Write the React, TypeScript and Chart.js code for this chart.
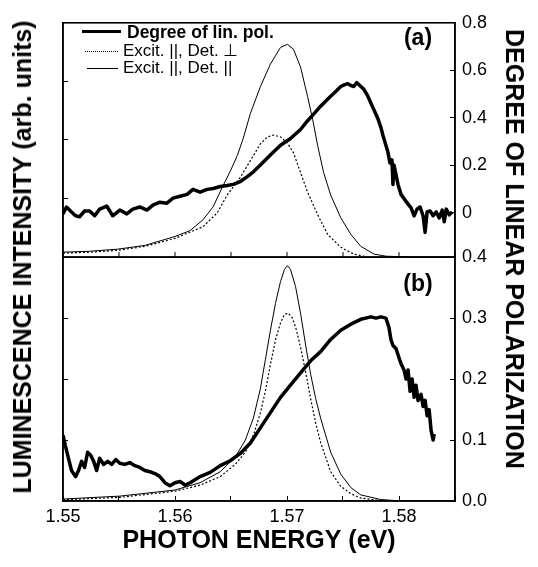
import React, { useEffect, useRef } from 'react';
import { Chart, registerables } from 'chart.js';

Chart.register(...registerables);

const FONT = '"Liberation Sans", Arial, Helvetica, sans-serif';

// ---------- axis ticks ----------
const xTickValues = [1.55, 1.555, 1.56, 1.565, 1.57, 1.575, 1.58, 1.585];
const xTickLabels = ['1.55', '', '1.56', '', '1.57', '', '1.58', ''];
const topRightTicks = [0, 0.2, 0.4, 0.6, 0.8];
const topRightLabels = ['0', '0.2', '0.4', '0.6', '0.8'];
const botRightTicks = [0, 0.1, 0.2, 0.3, 0.4];
const botRightLabels = ['0.0', '0.1', '0.2', '0.3', '0.4'];

const seriesLabels = ['Degree of lin. pol.', 'Excit. ||, Det. \u22A5', 'Excit. ||, Det. ||'];

// ---------- panel (a) ----------
const topPolE = [1.5500, 1.55031, 1.55076, 1.55112, 1.55148, 1.55193, 1.55238, 1.55283, 1.55327, 1.55390, 1.55444, 1.55507, 1.55570, 1.55623, 1.55686, 1.55749, 1.55803, 1.55865, 1.55928, 1.55982, 1.56045, 1.56108, 1.56161, 1.56224, 1.56287, 1.56341, 1.56404, 1.56466, 1.56520, 1.56583, 1.56646, 1.56700, 1.56762, 1.56825, 1.56879, 1.56942, 1.57031, 1.57121, 1.57184, 1.57238, 1.57300, 1.57345, 1.57390, 1.57435, 1.57480, 1.57516, 1.57543, 1.57570, 1.57596, 1.57623, 1.57650, 1.57686, 1.57722, 1.57749, 1.57785, 1.57812, 1.57839, 1.57857, 1.57883, 1.57901, 1.57919, 1.57937, 1.57946, 1.57955, 1.57973, 1.57991, 1.58018, 1.58054, 1.58081, 1.58108, 1.58135, 1.58161, 1.58188, 1.58215, 1.58233, 1.58251, 1.58278, 1.58305, 1.58332, 1.58359, 1.58386, 1.58404, 1.58422, 1.58448, 1.58475];
const topPolV = [-0.004, 0.025, 0.004, -0.012, -0.016, 0.008, 0.008, -0.012, 0.016, 0.029, -0.012, 0.012, -0.004, 0.016, 0.025, 0.012, 0.033, 0.045, 0.041, 0.062, 0.070, 0.078, 0.099, 0.087, 0.099, 0.103, 0.111, 0.115, 0.120, 0.132, 0.153, 0.173, 0.202, 0.231, 0.256, 0.285, 0.313, 0.351, 0.388, 0.416, 0.449, 0.470, 0.491, 0.511, 0.532, 0.540, 0.544, 0.536, 0.532, 0.548, 0.536, 0.520, 0.491, 0.462, 0.425, 0.396, 0.359, 0.326, 0.285, 0.256, 0.210, 0.223, 0.120, 0.202, 0.161, 0.120, 0.078, 0.054, 0.037, 0.021, -0.012, 0.016, 0.025, -0.012, -0.082, 0.004, 0.008, -0.012, 0.004, -0.021, 0.012, -0.037, 0.016, -0.008, 0.004];

const topParE = [1.5500, 1.55238, 1.55489, 1.55731, 1.56000, 1.56135, 1.56251, 1.56341, 1.56422, 1.56493, 1.56556, 1.56610, 1.56673, 1.56762, 1.56852, 1.56942, 1.57004, 1.57058, 1.57121, 1.57184, 1.57229, 1.57274, 1.57327, 1.57390, 1.57480, 1.57570, 1.57659, 1.57776, 1.57883, 1.58108, 1.58493];
const topParL = [0.021, 0.025, 0.034, 0.050, 0.088, 0.113, 0.160, 0.215, 0.298, 0.366, 0.433, 0.508, 0.613, 0.727, 0.824, 0.895, 0.908, 0.887, 0.811, 0.685, 0.588, 0.475, 0.361, 0.265, 0.168, 0.097, 0.046, 0.013, 0.004, 0, 0];

const topPerpE = [1.5500, 1.55238, 1.55489, 1.55731, 1.56000, 1.56251, 1.56377, 1.56466, 1.56583, 1.56673, 1.56762, 1.56825, 1.56879, 1.56942, 1.57004, 1.57058, 1.57121, 1.57184, 1.57274, 1.57363, 1.57480, 1.57596, 1.57722, 1.58493];
const topPerpL = [0.017, 0.021, 0.029, 0.046, 0.080, 0.130, 0.189, 0.265, 0.340, 0.412, 0.483, 0.513, 0.521, 0.513, 0.487, 0.445, 0.361, 0.277, 0.181, 0.097, 0.042, 0.013, 0, 0];

// ---------- panel (b) ----------
const botPolE = [1.5500, 1.55022, 1.55049, 1.55076, 1.55112, 1.55139, 1.55166, 1.55193, 1.55220, 1.55247, 1.55274, 1.55300, 1.55327, 1.55363, 1.55399, 1.55435, 1.55471, 1.55507, 1.55552, 1.55596, 1.55641, 1.55686, 1.55731, 1.55776, 1.55821, 1.55865, 1.55910, 1.55955, 1.56000, 1.56045, 1.56090, 1.56135, 1.56179, 1.56224, 1.56314, 1.56404, 1.56493, 1.56583, 1.56673, 1.56762, 1.56852, 1.56942, 1.57031, 1.57121, 1.57211, 1.57300, 1.57390, 1.57480, 1.57570, 1.57659, 1.57749, 1.57794, 1.57839, 1.57883, 1.57910, 1.57928, 1.57946, 1.57973, 1.58000, 1.58018, 1.58045, 1.58063, 1.58081, 1.58099, 1.58117, 1.58135, 1.58152, 1.58170, 1.58197, 1.58215, 1.58233, 1.58251, 1.58269, 1.58287, 1.58305, 1.58314];
const botPolV = [0.108, 0.09, 0.07, 0.05, 0.04, 0.05, 0.065, 0.055, 0.08, 0.075, 0.065, 0.05, 0.07, 0.06, 0.065, 0.06, 0.068, 0.062, 0.06, 0.063, 0.058, 0.055, 0.05, 0.048, 0.045, 0.04, 0.03, 0.025, 0.03, 0.032, 0.026, 0.03, 0.035, 0.04, 0.047, 0.058, 0.066, 0.078, 0.095, 0.12, 0.145, 0.17, 0.19, 0.21, 0.23, 0.245, 0.265, 0.28, 0.29, 0.298, 0.302, 0.30, 0.302, 0.30, 0.285, 0.265, 0.255, 0.25, 0.235, 0.225, 0.215, 0.2, 0.215, 0.18, 0.2, 0.17, 0.19, 0.165, 0.175, 0.155, 0.165, 0.14, 0.15, 0.115, 0.1, 0.11];

const botParE = [1.5500, 1.55507, 1.56000, 1.56224, 1.56404, 1.56538, 1.56628, 1.56700, 1.56762, 1.56807, 1.56852, 1.56897, 1.56942, 1.56978, 1.57004, 1.57031, 1.57076, 1.57121, 1.57166, 1.57211, 1.57256, 1.57300, 1.57390, 1.57480, 1.57570, 1.57659, 1.57839, 1.58018, 1.58493];
const botParL = [0.008, 0.02, 0.045, 0.075, 0.12, 0.18, 0.25, 0.34, 0.46, 0.58, 0.70, 0.81, 0.90, 0.95, 0.965, 0.95, 0.88, 0.77, 0.64, 0.52, 0.42, 0.34, 0.2, 0.11, 0.055, 0.025, 0.006, 0, 0];

const botPerpE = [1.5500, 1.55507, 1.56000, 1.56224, 1.56404, 1.56538, 1.56628, 1.56700, 1.56762, 1.56807, 1.56852, 1.56897, 1.56942, 1.56978, 1.57013, 1.57049, 1.57085, 1.57121, 1.57166, 1.57211, 1.57256, 1.57300, 1.57390, 1.57480, 1.57570, 1.57659, 1.57839, 1.58493];
const botPerpL = [0.005, 0.015, 0.04, 0.065, 0.1, 0.15, 0.2, 0.27, 0.36, 0.45, 0.56, 0.66, 0.73, 0.765, 0.77, 0.75, 0.7, 0.63, 0.53, 0.42, 0.32, 0.24, 0.12, 0.06, 0.03, 0.012, 0.002, 0];

const toPts = (xs: number[], ys: number[]) => xs.map((x, i) => ({ x, y: ys[i] }));

const framePlugin = {
  id: 'panelFrames',
  afterDraw(chart: any) {
    const { ctx, chartArea, scales } = chart;
    const xs = scales.x;
    ctx.save();
    ctx.strokeStyle = '#000';
    ctx.lineWidth = 1.6;
    ['yRT', 'yRB'].forEach((id) => {
      const s = scales[id];
      ctx.strokeRect(chartArea.left, s.top, chartArea.right - chartArea.left, s.bottom - s.top);
    });
    const top = scales.yRT;
    ctx.lineWidth = 1;
    ctx.beginPath();
    xs.ticks.forEach((t: any) => {
      const px = xs.getPixelForValue(t.value);
      ctx.moveTo(px, top.bottom);
      ctx.lineTo(px, top.bottom - 5);
    });
    ctx.stroke();
    ctx.restore();
  },
};

const gridInward = { display: true, drawOnChartArea: false, drawTicks: true, tickLength: -5, color: '#000', lineWidth: 1 };
const borderBlack = { display: true, color: '#000', width: 1.5 };

export default function App() {
  const ref = useRef<HTMLCanvasElement | null>(null);

  useEffect(() => {
    if (!ref.current) return;
    Chart.defaults.font.family = FONT;
    Chart.defaults.color = '#000';
    const mk = (label: string, data: any[], yAxisID: string, width: number, dash: number[]) => ({
      label,
      data,
      xAxisID: 'x',
      yAxisID,
      borderColor: '#000',
      backgroundColor: '#000',
      borderWidth: width,
      borderDash: dash,
      pointRadius: 0,
      tension: 0,
      borderJoinStyle: 'round' as const,
      fill: false,
    });
    const chart = new Chart(ref.current, {
      type: 'line',
      data: {
        datasets: [
          mk(seriesLabels[0], toPts(topPolE, topPolV), 'yRT', 3.5, []),
          mk(seriesLabels[1], toPts(topPerpE, topPerpL), 'yLT', 1.2, [2, 2]),
          mk(seriesLabels[2], toPts(topParE, topParL), 'yLT', 1, []),
          mk(seriesLabels[0], toPts(botPolE, botPolV), 'yRB', 3.5, []),
          mk(seriesLabels[1], toPts(botPerpE, botPerpL), 'yLB', 1.2, [2, 2]),
          mk(seriesLabels[2], toPts(botParE, botParL), 'yLB', 1, []),
        ],
      },
      options: {
        animation: false,
        responsive: false,
        devicePixelRatio: 1,
        layout: { padding: { top: 15, left: 0, right: 0, bottom: 0 } },
        plugins: { legend: { display: false }, tooltip: { enabled: false } },
        scales: {
          x: {
            type: 'linear',
            position: 'bottom',
            min: 1.55,
            max: 1.585,
            afterBuildTicks: (s: any) => { s.ticks = xTickValues.map((v) => ({ value: v })); },
            ticks: {
              autoSkip: false,
              maxRotation: 0,
              padding: 10,
              color: '#000',
              font: { size: 18 },
              callback: (_v: any, i: number) => xTickLabels[i],
            },
            grid: gridInward,
            border: borderBlack,
            title: {
              display: true,
              text: 'PHOTON ENERGY (eV)',
              color: '#000',
              font: { size: 25, weight: 'bold' },
              padding: { top: 0, bottom: 11 },
            },
            afterFit: (s: any) => { s.height = 66; },
          },
          yLB: {
            type: 'linear',
            position: 'left',
            stack: 'lum',
            stackWeight: 0.51,
            min: 0,
            max: 1,
            ticks: { display: false, stepSize: 0.25 },
            grid: gridInward,
            border: borderBlack,
            afterFit: (s: any) => { s.width = 63; },
          },
          yLT: {
            type: 'linear',
            position: 'left',
            stack: 'lum',
            stackWeight: 0.49,
            min: 0,
            max: 1,
            ticks: { display: false, stepSize: 0.25 },
            grid: gridInward,
            border: borderBlack,
            afterFit: (s: any) => { s.width = 63; },
          },
          yRT: {
            type: 'linear',
            position: 'right',
            stack: 'pol',
            stackWeight: 0.49,
            min: -0.186,
            max: 0.8,
            afterBuildTicks: (s: any) => { s.ticks = topRightTicks.map((v) => ({ value: v })); },
            ticks: {
              padding: 12,
              color: '#000',
              font: { size: 18 },
              callback: (_v: any, i: number) => topRightLabels[i],
            },
            grid: gridInward,
            border: borderBlack,
            afterFit: (s: any) => { s.width = 83; },
          },
          yRB: {
            type: 'linear',
            position: 'right',
            stack: 'pol',
            stackWeight: 0.51,
            min: 0,
            max: 0.4,
            afterBuildTicks: (s: any) => { s.ticks = botRightTicks.map((v) => ({ value: v })); },
            ticks: {
              padding: 12,
              color: '#000',
              font: { size: 18 },
              callback: (_v: any, i: number) => botRightLabels[i],
            },
            grid: gridInward,
            border: borderBlack,
            afterFit: (s: any) => { s.width = 83; },
          },
        },
      } as any,
      plugins: [framePlugin],
    });
    return () => chart.destroy();
  }, []);

  const abs = (extra: React.CSSProperties): React.CSSProperties => ({ position: 'absolute', whiteSpace: 'nowrap', ...extra });

  const legendRows = [
    { lineL: 82, lineR: 121, y: 32, thick: 3.5, style: 'solid', textL: 127, size: 17.5, weight: 700 },
    { lineL: 85, lineR: 118, y: 51, thick: 1, style: 'dotted', textL: 123, size: 17, weight: 400 },
    { lineL: 87, lineR: 118, y: 68, thick: 1, style: 'solid', textL: 123, size: 17, weight: 400 },
  ];

  return (
    <div style={{ position: 'absolute', left: 0, top: 0, width: 538, height: 567, fontFamily: FONT, color: '#000', background: '#fff' }}>
      <canvas ref={ref} width={538} height={567} style={{ position: 'absolute', left: 0, top: 0 }} />
      <div style={abs({ left: 22, top: 257, transform: 'translate(-50%,-50%) rotate(-90deg)', fontSize: 25, fontWeight: 700, lineHeight: '30px' })}>
        LUMINESCENCE INTENSITY (arb. units)
      </div>
      <div style={abs({ left: 515, top: 249, transform: 'translate(-50%,-50%) rotate(90deg)', fontSize: 25, fontWeight: 700, lineHeight: '30px' })}>
        DEGREE OF LINEAR POLARIZATION
      </div>
      <div style={abs({ left: 418, top: 37, transform: 'translate(-50%,-50%)', fontSize: 23, fontWeight: 700, lineHeight: '26px' })}>(a)</div>
      <div style={abs({ left: 418, top: 283, transform: 'translate(-50%,-50%)', fontSize: 23, fontWeight: 700, lineHeight: '26px' })}>(b)</div>
      {legendRows.map((r, i) => (
        <React.Fragment key={i}>
          <div style={abs({ left: r.lineL, top: r.y - r.thick / 2, width: r.lineR - r.lineL, height: 0, borderTop: `${r.thick}px ${r.style} #000` })} />
          <div style={abs({ left: r.textL, top: r.y - 10, lineHeight: '20px', fontSize: r.size, fontWeight: r.weight })}>{seriesLabels[i]}</div>
        </React.Fragment>
      ))}
    </div>
  );
}
